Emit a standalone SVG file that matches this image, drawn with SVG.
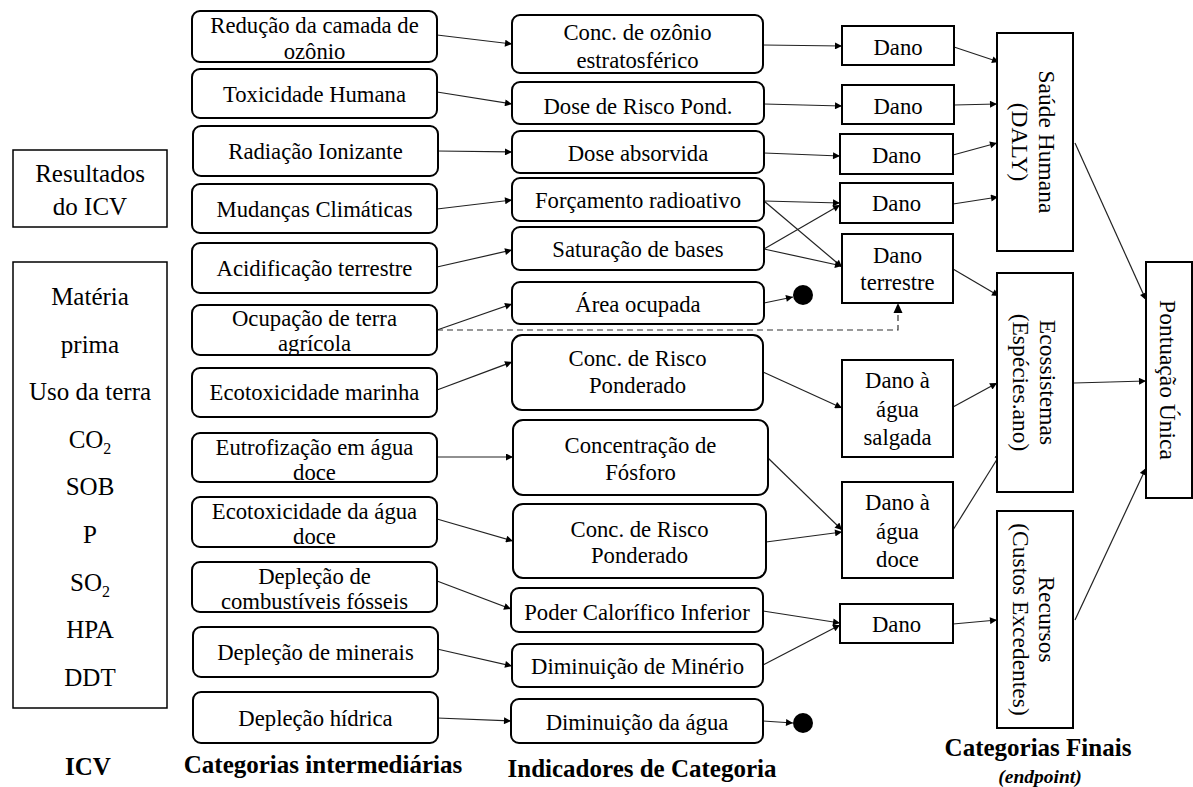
<svg xmlns="http://www.w3.org/2000/svg" width="1193" height="787" viewBox="0 0 1193 787">
  <style>
    .bg { fill: #ffffff; }
    .rbox { fill: #ffffff; stroke: #000; stroke-width: 2; }
    .sbox { fill: #ffffff; stroke: #000; stroke-width: 2; }
    .lbox { fill: #ffffff; stroke: #000; stroke-width: 1.5; }
    .t { font-family: "Liberation Serif", "Times New Roman", serif; font-size: 22.7px; fill: #000; text-anchor: middle; }
    .tl { font-family: "Liberation Serif", "Times New Roman", serif; font-size: 25px; fill: #000; text-anchor: middle; }
    .tv { font-family: "Liberation Serif", "Times New Roman", serif; font-size: 23.5px; fill: #000; text-anchor: middle; }
    .hd { font-family: "Liberation Serif", "Times New Roman", serif; font-size: 25px; font-weight: bold; fill: #000; text-anchor: middle; }
    .hi { font-family: "Liberation Serif", "Times New Roman", serif; font-size: 19.5px; font-weight: bold; font-style: italic; fill: #000; text-anchor: middle; }
    .sub { font-size: 16px; }
    .c { fill: none; stroke: #222; stroke-width: 1.2; marker-end: url(#ah); }
    .cn { fill: none; stroke: #222; stroke-width: 1.2; }
    .cd { fill: none; stroke: #333; stroke-width: 1.2; stroke-dasharray: 6 4; }
    .dot { fill: #000; }
  </style>
  <defs>
    <marker id="ah" viewBox="0 0 10 10" refX="10" refY="5" markerWidth="9" markerHeight="7" markerUnits="userSpaceOnUse" orient="auto">
      <path d="M0,0 L10,5 L0,10 z" fill="#000"/>
    </marker>
  </defs>
  <rect class="bg" x="0" y="0" width="1193" height="787"/>

  <!-- connectors -->
  <g id="connectors">
    <!-- midpoint categories to indicators -->
    <line class="c" x1="437" y1="35" x2="512" y2="44"/>
    <line class="c" x1="437" y1="92" x2="512" y2="104"/>
    <line class="c" x1="437" y1="151" x2="512" y2="152"/>
    <line class="c" x1="437" y1="209" x2="512" y2="200"/>
    <line class="c" x1="437" y1="267" x2="512" y2="250"/>
    <line class="c" x1="437" y1="330" x2="512" y2="304"/>
    <polyline class="cd" points="437,330 898,330 898,306"/>
    <path d="M893.5,313 L898,303 L902.5,313 z" fill="#000"/>
    <line class="c" x1="437" y1="390" x2="512" y2="362"/>
    <line class="c" x1="437" y1="457" x2="513" y2="457"/>
    <line class="c" x1="437" y1="519" x2="513" y2="541"/>
    <line class="c" x1="437" y1="581" x2="511" y2="609"/>
    <line class="c" x1="437" y1="649" x2="512" y2="666"/>
    <line class="c" x1="437" y1="718" x2="511" y2="721"/>

    <!-- indicators to damage -->
    <line class="c" x1="763" y1="45" x2="842" y2="46"/>
    <line class="c" x1="764" y1="104" x2="842" y2="106"/>
    <line class="c" x1="764" y1="153" x2="840" y2="156"/>
    <line class="c" x1="764" y1="201" x2="840" y2="203"/>
    <line class="c" x1="764" y1="201" x2="842" y2="267"/>
    <line class="c" x1="764" y1="249" x2="840" y2="205"/>
    <line class="c" x1="764" y1="249" x2="842" y2="266"/>
    <line class="c" x1="764" y1="303" x2="793" y2="297"/>
    <line class="c" x1="763" y1="372" x2="842" y2="408"/>
    <line class="c" x1="767" y1="457" x2="842" y2="530"/>
    <line class="c" x1="766" y1="542" x2="842" y2="532"/>
    <line class="c" x1="763" y1="611" x2="840" y2="623"/>
    <line class="c" x1="763" y1="665" x2="840" y2="625"/>
    <line class="c" x1="763" y1="721" x2="793" y2="723"/>

    <!-- damage to endpoints -->
    <line class="c" x1="954" y1="47" x2="999" y2="62"/>
    <line class="c" x1="954" y1="105" x2="997" y2="104"/>
    <line class="c" x1="953" y1="155" x2="997" y2="143"/>
    <line class="c" x1="953" y1="204" x2="998" y2="197"/>
    <line class="c" x1="953" y1="269" x2="999" y2="296"/>
    <line class="c" x1="953" y1="407" x2="997" y2="383"/>
    <line class="c" x1="953" y1="530" x2="1001" y2="453"/>
    <line class="c" x1="953" y1="624" x2="997" y2="620"/>

    <!-- endpoints to single score -->
    <line class="c" x1="1075" y1="143" x2="1146" y2="300"/>
    <line class="c" x1="1074" y1="383" x2="1146" y2="381"/>
    <line class="c" x1="1075" y1="620" x2="1146" y2="468"/>

    <circle class="dot" cx="803" cy="295" r="10"/>
    <circle class="dot" cx="803" cy="723" r="10"/>
  </g>

  <!-- inventory column -->
  <g id="icv-resultados">
    <rect class="lbox" x="13" y="150" width="154" height="77"/>
    <text class="tl" x="90" y="182">Resultados</text>
    <text class="tl" x="90" y="215">do ICV</text>
  </g>
  <g id="icv-lista">
    <rect class="lbox" x="13" y="262" width="154" height="446"/>
    <text class="tl" x="90" y="305">Matéria</text>
    <text class="tl" x="90" y="352.6">prima</text>
    <text class="tl" x="90" y="400.2">Uso da terra</text>
    <text class="tl" x="90" y="447.8">CO<tspan class="sub" dy="6">2</tspan></text>
    <text class="tl" x="90" y="495.4">SOB</text>
    <text class="tl" x="90" y="543">P</text>
    <text class="tl" x="90" y="590.6">SO<tspan class="sub" dy="6">2</tspan></text>
    <text class="tl" x="90" y="638.2">HPA</text>
    <text class="tl" x="90" y="685.8">DDT</text>
  </g>

  <!-- midpoint categories -->
  <g id="m-ozonio">
    <rect class="rbox" x="192" y="11" width="245" height="51" rx="8"/>
    <text class="t" x="314.5" y="33">Redução da camada de</text>
    <text class="t" x="314.5" y="59">ozônio</text>
  </g>
  <g id="m-toxicidade">
    <rect class="rbox" x="192" y="69" width="245" height="49" rx="8"/>
    <text class="t" x="314.5" y="102">Toxicidade Humana</text>
  </g>
  <g id="m-radiacao">
    <rect class="rbox" x="193" y="126" width="245" height="50" rx="8"/>
    <text class="t" x="315.5" y="159">Radiação Ionizante</text>
  </g>
  <g id="m-clima">
    <rect class="rbox" x="192" y="184" width="245" height="49" rx="8"/>
    <text class="t" x="314.5" y="217">Mudanças Climáticas</text>
  </g>
  <g id="m-acidificacao">
    <rect class="rbox" x="192" y="243" width="245" height="50" rx="8"/>
    <text class="t" x="314.5" y="276">Acidificação terrestre</text>
  </g>
  <g id="m-ocupacao">
    <rect class="rbox" x="192" y="305" width="245" height="50" rx="8"/>
    <text class="t" x="314.5" y="326">Ocupação de terra</text>
    <text class="t" x="314.5" y="351">agrícola</text>
  </g>
  <g id="m-ecotox-marinha">
    <rect class="rbox" x="192" y="368" width="245" height="49" rx="8"/>
    <text class="t" x="314.5" y="400">Ecotoxicidade marinha</text>
  </g>
  <g id="m-eutrofizacao">
    <rect class="rbox" x="192" y="433" width="245" height="49" rx="8"/>
    <text class="t" x="314.5" y="454.5">Eutrofização em água</text>
    <text class="t" x="314.5" y="479.5">doce</text>
  </g>
  <g id="m-ecotox-doce">
    <rect class="rbox" x="192" y="497" width="245" height="50" rx="8"/>
    <text class="t" x="314.5" y="518.5">Ecotoxicidade da água</text>
    <text class="t" x="314.5" y="543.5">doce</text>
  </g>
  <g id="m-fosseis">
    <rect class="rbox" x="192" y="562" width="245" height="50" rx="8"/>
    <text class="t" x="314.5" y="583.5">Depleção de</text>
    <text class="t" x="314.5" y="608.5">combustíveis fósseis</text>
  </g>
  <g id="m-minerais">
    <rect class="rbox" x="193" y="627" width="245" height="50" rx="8"/>
    <text class="t" x="315.5" y="660">Depleção de minerais</text>
  </g>
  <g id="m-hidrica">
    <rect class="rbox" x="193" y="692" width="245" height="51" rx="8"/>
    <text class="t" x="315.5" y="725.5">Depleção hídrica</text>
  </g>

  <!-- category indicators -->
  <g id="i-ozonio">
    <rect class="rbox" x="512" y="15" width="251" height="58" rx="8"/>
    <text class="t" x="637.5" y="40">Conc. de ozônio</text>
    <text class="t" x="637.5" y="68">estratosférico</text>
  </g>
  <g id="i-dose-risco">
    <rect class="rbox" x="512" y="82" width="252" height="42" rx="8"/>
    <text class="t" x="638" y="113.5">Dose de Risco Pond.</text>
  </g>
  <g id="i-dose-absorvida">
    <rect class="rbox" x="512" y="131" width="252" height="42" rx="8"/>
    <text class="t" x="638" y="161">Dose absorvida</text>
  </g>
  <g id="i-forcamento">
    <rect class="rbox" x="512" y="178" width="252" height="43" rx="8"/>
    <text class="t" x="638" y="208">Forçamento radioativo</text>
  </g>
  <g id="i-saturacao">
    <rect class="rbox" x="512" y="227" width="252" height="43" rx="8"/>
    <text class="t" x="638" y="257">Saturação de bases</text>
  </g>
  <g id="i-area">
    <rect class="rbox" x="512" y="282" width="252" height="42" rx="8"/>
    <text class="t" x="638" y="312">Área ocupada</text>
  </g>
  <g id="i-risco-marinho">
    <rect class="rbox" x="512" y="335" width="251" height="75" rx="10"/>
    <text class="t" x="637.5" y="366">Conc. de Risco</text>
    <text class="t" x="637.5" y="393">Ponderado</text>
  </g>
  <g id="i-fosforo">
    <rect class="rbox" x="513" y="420" width="255" height="75" rx="10"/>
    <text class="t" x="640.5" y="453">Concentração de</text>
    <text class="t" x="640.5" y="480">Fósforo</text>
  </g>
  <g id="i-risco-doce">
    <rect class="rbox" x="513" y="504" width="253" height="74" rx="10"/>
    <text class="t" x="639.5" y="537">Conc. de Risco</text>
    <text class="t" x="639.5" y="563">Ponderado</text>
  </g>
  <g id="i-poder">
    <rect class="rbox" x="511" y="588" width="252" height="44" rx="8"/>
    <text class="t" x="637" y="620">Poder Calorífico Inferior</text>
  </g>
  <g id="i-minerio">
    <rect class="rbox" x="512" y="644" width="251" height="43" rx="8"/>
    <text class="t" x="637.5" y="673.5">Diminuição de Minério</text>
  </g>
  <g id="i-agua">
    <rect class="rbox" x="511" y="699" width="252" height="44" rx="8"/>
    <text class="t" x="637" y="730">Diminuição da água</text>
  </g>

  <!-- damage boxes -->
  <g id="d-1">
    <rect class="sbox" x="842" y="26" width="112" height="39"/>
    <text class="t" x="898" y="55">Dano</text>
  </g>
  <g id="d-2">
    <rect class="sbox" x="842" y="85" width="112" height="39"/>
    <text class="t" x="898" y="113.5">Dano</text>
  </g>
  <g id="d-3">
    <rect class="sbox" x="840" y="134" width="113" height="40"/>
    <text class="t" x="896.5" y="163">Dano</text>
  </g>
  <g id="d-4">
    <rect class="sbox" x="840" y="183" width="113" height="40"/>
    <text class="t" x="896.5" y="211">Dano</text>
  </g>
  <g id="d-terrestre">
    <rect class="sbox" x="842" y="234" width="111" height="69"/>
    <text class="t" x="897.5" y="263">Dano</text>
    <text class="t" x="897.5" y="290">terrestre</text>
  </g>
  <g id="d-salgada">
    <rect class="sbox" x="842" y="360" width="111" height="97"/>
    <text class="t" x="897.5" y="388">Dano à</text>
    <text class="t" x="897.5" y="416.5">água</text>
    <text class="t" x="897.5" y="445">salgada</text>
  </g>
  <g id="d-doce">
    <rect class="sbox" x="842" y="482" width="111" height="96"/>
    <text class="t" x="897.5" y="510">Dano à</text>
    <text class="t" x="897.5" y="538.5">água</text>
    <text class="t" x="897.5" y="567">doce</text>
  </g>
  <g id="d-recursos">
    <rect class="sbox" x="840" y="604" width="113" height="39"/>
    <text class="t" x="896.5" y="632">Dano</text>
  </g>

  <!-- endpoint categories -->
  <g id="e-saude">
    <rect class="sbox" x="997" y="33" width="76" height="218"/>
    <text class="tv" transform="translate(1039,142) rotate(90)" x="0" y="0">Saúde Humana</text>
    <text class="tv" transform="translate(1012,142) rotate(90)" x="0" y="0">(DALY)</text>
  </g>
  <g id="e-ecossistemas">
    <rect class="sbox" x="997" y="273" width="76" height="219"/>
    <text class="tv" transform="translate(1040,382.5) rotate(90)" x="0" y="0">Ecossistemas</text>
    <text class="tv" transform="translate(1013,382.5) rotate(90)" x="0" y="0">(Espécies.ano)</text>
  </g>
  <g id="e-recursos">
    <rect class="sbox" x="997" y="511" width="76" height="217"/>
    <text class="tv" transform="translate(1039,619.5) rotate(90)" x="0" y="0">Recursos</text>
    <text class="tv" transform="translate(1013,619.5) rotate(90)" x="0" y="0">(Custos Excedentes)</text>
  </g>
  <g id="e-pontuacao">
    <rect class="sbox" x="1146" y="262" width="46" height="236"/>
    <text class="tv" transform="translate(1160,380) rotate(90)" x="0" y="0">Pontuação Única</text>
  </g>

  <!-- column headings -->
  <g id="headings">
    <text class="hd" x="88" y="775">ICV</text>
    <text class="hd" x="323" y="773">Categorias intermediárias</text>
    <text class="hd" x="642" y="777">Indicadores de Categoria</text>
    <text class="hd" x="1038" y="756">Categorias Finais</text>
    <text class="hi" x="1040" y="783">(endpoint)</text>
  </g>
</svg>
